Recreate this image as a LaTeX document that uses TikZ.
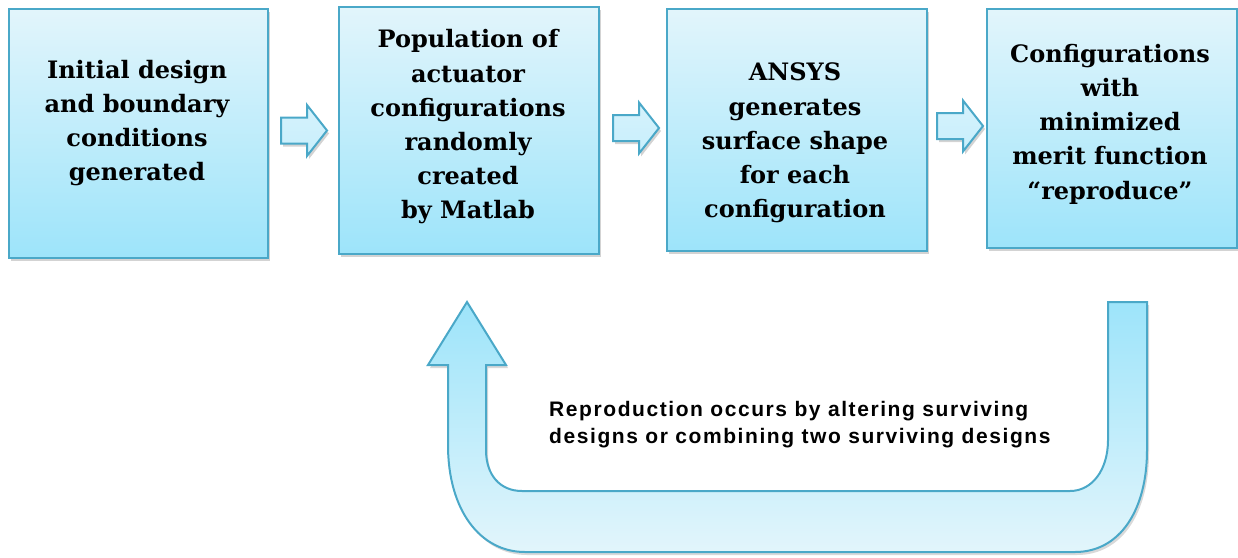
\documentclass[tikz,border=0pt]{standalone}
\usepackage{fontspec}
\setmainfont{DejaVu Serif}
\setsansfont{Liberation Sans}
\usetikzlibrary{shadows}
\definecolor{edge}{HTML}{4AA8C8}
\definecolor{light}{HTML}{E2F5FB}
\definecolor{deep}{HTML}{9DE4FA}
\definecolor{mid}{HTML}{C8EFFC}
\tikzset{
  boxstyle/.style={draw=edge, line width=2pt, top color=light, bottom color=deep,
    drop shadow={opacity=0.35, shadow xshift=2pt, shadow yshift=-3pt},
    inner sep=0pt, anchor=north west},
  boxtext/.style={font=\fontsize{24}{34.2}\selectfont\bfseries, align=center, text=black},
  smallarrow/.style={draw=edge, line width=2pt, top color=light!50!mid, bottom color=mid,
    drop shadow={opacity=0.35, shadow xshift=2pt, shadow yshift=-3pt}},
  loopstyle/.style={draw=edge, line width=2pt, top color=deep, bottom color=light,
    drop shadow={opacity=0.3, shadow xshift=2pt, shadow yshift=-3pt}},
  labelfont/.style={font=\fontsize{21}{27}\selectfont\sffamily\bfseries\addfontfeatures{LetterSpace=7.5}},
}
\newcommand{\rarrow}[2]{% left x, center y
  \path[smallarrow] (#1,#2-13) -- ++(26,0) -- ++(0,-12.5) -- ++(20,25.5) -- ++(-20,25.5) -- ++(0,-12.5) -- ++(-26,0) -- cycle;}
\begin{document}
\begin{tikzpicture}[x=1pt,y=-1pt]
\useasboundingbox (0,0) rectangle (1238,557);
% boxes
\node[boxstyle, minimum width=259pt, minimum height=249pt] (b1) at (8,8) {};
\node[boxstyle, minimum width=260pt, minimum height=247pt] (b2) at (338,6) {};
\node[boxstyle, minimum width=260pt, minimum height=242pt] (b3) at (666,8) {};
\node[boxstyle, minimum width=250pt, minimum height=239pt] (b4) at (986,8) {};
\node[boxtext] (t1) at (137,123) {Initial design\\and boundary\\conditions\\generated};
\node[boxtext] (t2) at (468,127) {Population of\\actuator\\configurations\\randomly\\created\\by Matlab};
\node[boxtext] (t3) at (795,143) {ANSYS\\generates\\surface shape\\for each\\configuration};
\node[boxtext] (t4) at (1110,124) {Configurations\\with\\minimized\\merit function\\``reproduce''};
% small arrows
\rarrow{281}{130.5}
\rarrow{613}{128}
\rarrow{937}{126}
% loop arrow
\path[loopstyle] (448,365) -- (448,445)
  .. controls (448,510) and (480,552) .. (525,552)
  -- (1075,552)
  .. controls (1120,552) and (1147,510) .. (1147,450)
  -- (1147,302) -- (1108,302) -- (1108,440)
  .. controls (1108,470) and (1092,491) .. (1070,491)
  -- (522,491)
  .. controls (500,491) and (486,475) .. (486,450)
  -- (486,365) -- (506,365) -- (467,302) -- (428,365) -- cycle;
\node[labelfont, align=left, anchor=north west, inner sep=0pt] (lbl) at (549,401)
  {Reproduction occurs by altering surviving\\designs or combining two surviving designs};
\end{tikzpicture}
\end{document}
